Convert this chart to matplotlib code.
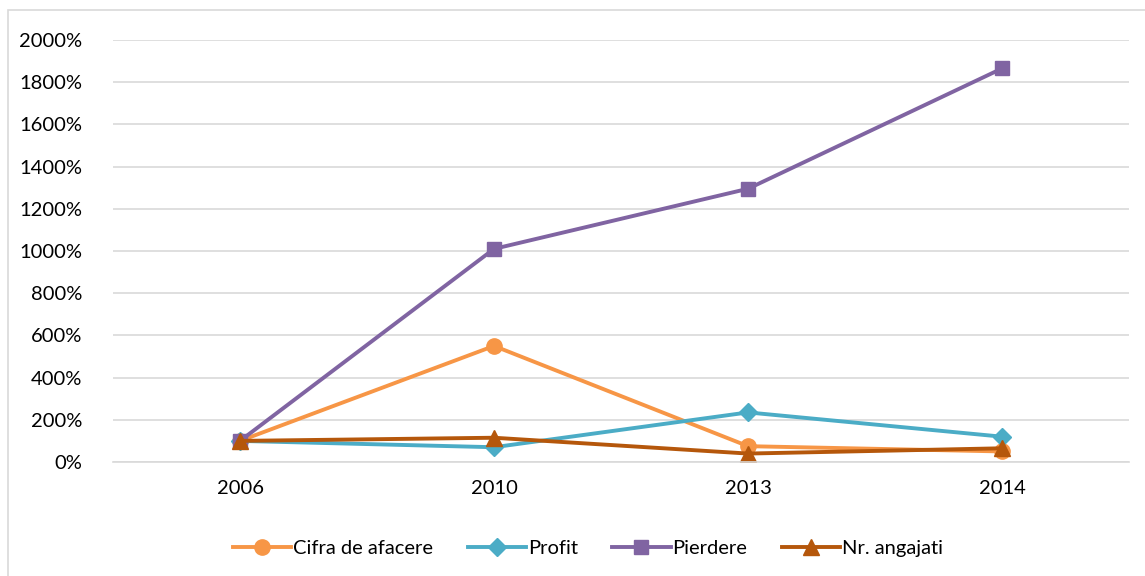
import matplotlib.pyplot as plt
from matplotlib.patches import Rectangle
from matplotlib.ticker import FuncFormatter

plt.rcParams['font.family'] = ['Lato', 'DejaVu Sans']

# date
years = ['2006', '2010', '2013', '2014']
cifra = [100, 550, 75, 50]
profit = [100, 70, 235, 120]
pierdere = [100, 1010, 1295, 1865]
angajati = [100, 115, 40, 65]

fig = plt.figure(figsize=(11.45, 5.76), dpi=100)
ax = fig.add_axes([113/1145, 1 - 462/576, 1016/1145, 422/576])

# chenarul exterior (taiat la dreapta si jos)
fig.patches.append(Rectangle((8/1145, -0.1), 1.2, 1 - 10/576 + 0.1, transform=fig.transFigure,
                             fill=False, edgecolor='#d9d9d9', linewidth=1.2))

x = range(len(years))
ax.plot(x, cifra, color='#F79646', lw=2.8, marker='o', ms=11, label='Cifra de afacere')
ax.plot(x, profit, color='#4BACC6', lw=2.8, marker='D', ms=9.5, label='Profit')
ax.plot(x, pierdere, color='#8064A2', lw=2.8, marker='s', ms=10.5, label='Pierdere')
ax.plot(x, angajati, color='#B5570B', lw=2.8, marker='^', ms=11, label='Nr. angajati')

ax.set_xlim(-0.5, len(years) - 0.5)
ax.set_ylim(0, 2000)
ax.set_yticks(range(0, 2001, 200))
ax.yaxis.set_major_formatter(FuncFormatter(lambda v, p: '%d%%' % v))
ax.set_xticks(list(x))
ax.set_xticklabels(years)
ax.grid(axis='y', color='#d9d9d9', lw=1.2)
ax.set_axisbelow(True)
for s in ['top', 'right', 'left']:
    ax.spines[s].set_visible(False)
ax.spines['bottom'].set_color('#d9d9d9')
ax.spines['bottom'].set_linewidth(1.2)
ax.tick_params(length=0, labelsize=14.5, colors='black')
ax.tick_params(axis='y', pad=22)
ax.tick_params(axis='x', pad=13)

fig.legend(loc='center', bbox_to_anchor=(588/1145, 1 - 548/576), ncol=4, frameon=False,
           fontsize=14.5, handlelength=2.9, columnspacing=1.7, handletextpad=0.1)

fig.savefig('out.png', dpi=100)
